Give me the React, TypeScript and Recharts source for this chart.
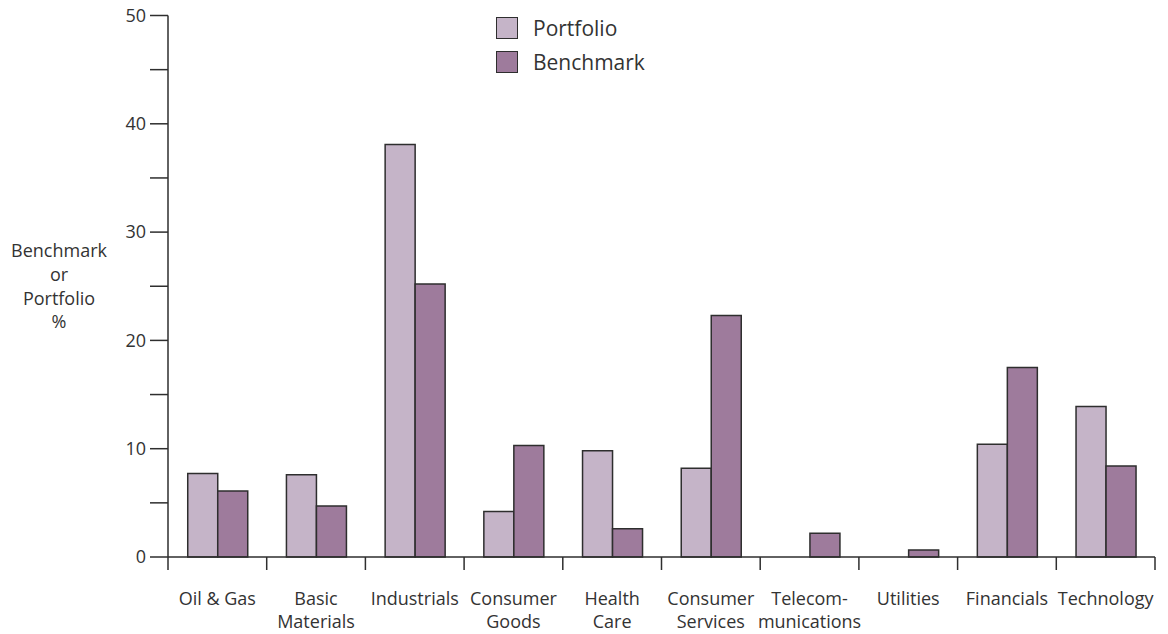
import { BarChart, Bar, XAxis, YAxis } from 'recharts';

const sectors = [
  'Oil & Gas',
  'Basic\nMaterials',
  'Industrials',
  'Consumer\nGoods',
  'Health\nCare',
  'Consumer\nServices',
  'Telecom-\nmunications',
  'Utilities',
  'Financials',
  'Technology',
];
const portfolio = [7.7, 7.6, 38.1, 4.2, 9.8, 8.2, 0, 0, 10.4, 13.9];
const benchmark = [6.1, 4.7, 25.2, 10.3, 2.6, 22.3, 2.2, 0.65, 17.5, 8.4];
const yTicks = [0, 5, 10, 15, 20, 25, 30, 35, 40, 45, 50];

const series = [
  { key: 'portfolio', name: 'Portfolio', color: '#c5b4c8' },
  { key: 'benchmark', name: 'Benchmark', color: '#9e7b9c' },
];

const data = sectors.map((name, i) => ({
  name,
  portfolio: portfolio[i],
  benchmark: benchmark[i],
}));

const INK = '#2e2e2e';
const FONT = '"Open Sans", sans-serif';

function SectorTick(props: any) {
  const { x, y, payload, index, visibleTicksCount } = props;
  const half = payload?.offset ?? 0;
  const lines = String(payload.value).split('\n');
  return (
    <g>
      <line x1={x - half} x2={x - half} y1={y} y2={y + 13} stroke={INK} strokeWidth={1.5} />
      {index === visibleTicksCount - 1 && (
        <line x1={x + half} x2={x + half} y1={y} y2={y + 13} stroke={INK} strokeWidth={1.5} />
      )}
      <text x={x} y={y + 48} textAnchor="middle" fill="#333" fontSize={18} fontFamily={FONT}>
        {lines.map((l, i) => (
          <tspan key={i} x={x} dy={i === 0 ? 0 : 23}>
            {l}
          </tspan>
        ))}
      </text>
    </g>
  );
}

function YLabel(props: any) {
  const vb = props.viewBox || {};
  const cx = (vb.x ?? 0) + 59;
  const cy = (vb.y ?? 0) + (vb.height ?? 0) / 2;
  const lines = ['Benchmark', 'or', 'Portfolio', '%'];
  return (
    <text x={cx} y={cy - 29} textAnchor="middle" fill="#333" fontSize={18} fontFamily={FONT}>
      {lines.map((l, i) => (
        <tspan key={i} x={cx} dy={i === 0 ? 0 : 23.7}>
          {l}
        </tspan>
      ))}
    </text>
  );
}

export default function App() {
  return (
    <div style={{ position: 'absolute', left: 0, top: 0, width: 1168, height: 634, background: '#fff' }}>
      <BarChart
        width={1168}
        height={634}
        data={data}
        margin={{ top: 15.5, right: 13, bottom: 17, left: 0 }}
        barGap={0}
        barCategoryGap="20%"
      >
        <XAxis
          dataKey="name"
          interval={0}
          height={60}
          tickLine={false}
          tickSize={0}
          tickMargin={0}
          axisLine={{ stroke: INK, strokeWidth: 1.5 }}
          tick={<SectorTick />}
        />
        <YAxis
          width={168}
          domain={[0, 50]}
          ticks={yTicks}
          interval={0}
          tickSize={18}
          tickMargin={4}
          tickFormatter={(v: number) => (v % 10 === 0 ? String(v) : '')}
          axisLine={{ stroke: INK, strokeWidth: 1.5 }}
          tickLine={{ stroke: INK, strokeWidth: 1.5 }}
          tick={{ fill: '#333', fontSize: 18, fontFamily: FONT }}
          label={<YLabel />}
        />
        {series.map((s) => (
          <Bar
            key={s.key}
            dataKey={s.key}
            name={s.name}
            fill={s.color}
            stroke={INK}
            strokeWidth={1.5}
            isAnimationActive={false}
          />
        ))}
      </BarChart>
      <div
        style={{
          position: 'absolute',
          left: 496,
          top: 11,
          fontFamily: FONT,
          fontSize: 21,
          color: '#333',
        }}
      >
        {series.map((s) => (
          <div key={s.key} style={{ display: 'flex', alignItems: 'center', height: 34 }}>
            <span
              style={{
                display: 'inline-block',
                width: 20,
                height: 20,
                background: s.color,
                border: `1.5px solid ${INK}`,
                marginRight: 15,
              }}
            />
            <span>{s.name}</span>
          </div>
        ))}
      </div>
    </div>
  );
}
